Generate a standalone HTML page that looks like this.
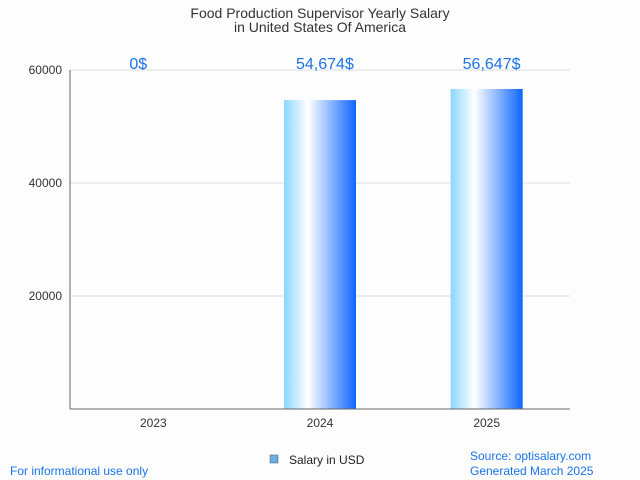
<!DOCTYPE html>
<html><head><meta charset="utf-8"><style>
body{margin:0;background:#fff;font-family:"Liberation Sans",sans-serif;}
svg{display:block}
</style></head><body>
<svg width="640" height="480">
<defs>
<linearGradient id="g" x1="0" x2="1" y1="0" y2="0">
<stop offset="0" stop-color="#8ad6ff"/><stop offset="0.33" stop-color="#ffffff"/><stop offset="1" stop-color="#0d66ff"/>
</linearGradient>
</defs>
<rect x="0" y="0" width="640" height="480" fill="#fdfdfd"/>
<text x="320" y="18" text-anchor="middle" font-size="14" fill="#333">Food Production Supervisor Yearly Salary</text>
<text x="320" y="32" text-anchor="middle" font-size="14" fill="#333">in United States Of America</text>
<g id="grid"></g>
<g id="bars"></g>
<line x1="70" y1="70" x2="70" y2="409" stroke="#666"/>
<line x1="70" y1="409" x2="570" y2="409" stroke="#666"/>
<rect x="270" y="455" width="8" height="8" fill="#6aaee8" stroke="#555" stroke-width="0.5"/>
<text x="289" y="464" font-size="12" fill="#222">Salary in USD</text>
<text x="10" y="475" font-size="12" fill="#1a73e8">For informational use only</text>
<text x="470" y="460" font-size="12" fill="#1a73e8">Source: optisalary.com</text>
<text x="470" y="475" font-size="12" fill="#1a73e8">Generated March 2025</text>
</svg>
<script>
const categories=["2023","2024","2025"];
const values=[0,54674,56647];
const valueLabels=["0$","54,674$","56,647$"];
const yTicks=[20000,40000,60000];
const x0=70,x1=570,yb=409,yt=70,ymax=60000;
const y=v=>yb-(v/ymax)*(yb-yt);
const bw=(x1-x0)/categories.length;
const cx=i=>x0+bw*(i+0.5);
const ns="http://www.w3.org/2000/svg";
const grid=document.getElementById('grid'),bars=document.getElementById('bars');
function mk(tag,a,p){const e=document.createElementNS(ns,tag);for(const k in a)e.setAttribute(k,a[k]);p.appendChild(e);return e;}
yTicks.forEach(t=>{
 const l=mk('line',{x1:x0,x2:x1,y1:y(t),y2:y(t),stroke:'#ddd'},grid);
 
 
 const tx=mk('text',{x:x0-8,y:y(t)+4,'text-anchor':'end','font-size':12,fill:'#333'},grid);
 tx.textContent=t;
 
 
});
categories.forEach((c,i)=>{
 const r=mk('rect',{x:cx(i)-36,y:y(values[i]),width:72,height:yb-y(values[i]),fill:'url(#g)'},bars);
 
 
 const t=mk('text',{x:cx(i),y:427,'text-anchor':'middle','font-size':12,fill:'#333'},bars);
 t.textContent=c;
 
 
 const v=mk('text',{x:cx(i)-24,y:69,'text-anchor':'start','font-size':16,fill:'#1a73e8'},bars);
 v.textContent=valueLabels[i];
 
 
});
</script>
</body></html>
